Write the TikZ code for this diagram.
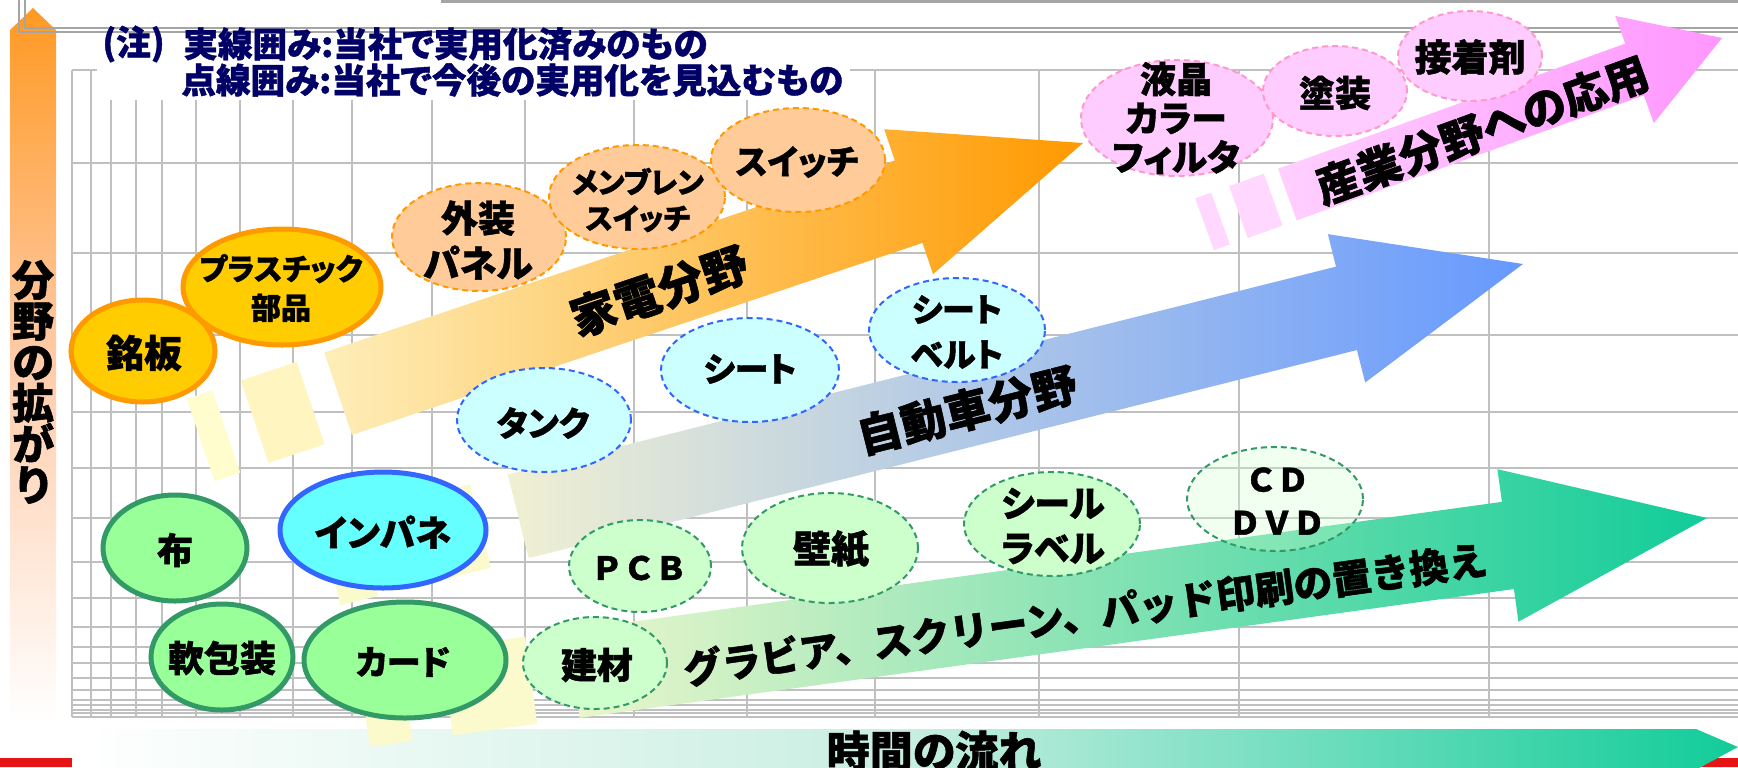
\documentclass[tikz,border=0pt]{standalone}
\usepackage{fontspec}
\setmainfont{Noto Sans CJK JP}[RawFeature=+palt, BoldFeatures={FakeBold=1.2}]
\newfontfamily\fwfont{Noto Sans CJK JP}[BoldFeatures={FakeBold=1.2}]
\usetikzlibrary{shapes.geometric}

\definecolor{gridgray}{RGB}{192,192,192}
\definecolor{framegray}{RGB}{165,165,165}
\definecolor{notenavy}{RGB}{0,0,102}
\definecolor{axisred}{RGB}{230,20,20}
\definecolor{goldfill}{RGB}{255,204,0}
\definecolor{orangeline}{RGB}{255,153,0}
\definecolor{peachfill}{RGB}{255,204,153}
\definecolor{cyanfill}{RGB}{102,255,255}
\definecolor{blueline}{RGB}{51,102,255}
\definecolor{palecyan}{RGB}{204,255,255}
\definecolor{greenfill}{RGB}{153,255,153}
\definecolor{greenline}{RGB}{51,153,102}
\definecolor{palegreen}{RGB}{204,255,204}
\definecolor{pinkfill}{RGB}{255,204,255}
\definecolor{pinkline}{RGB}{255,153,204}
\definecolor{kadentail}{RGB}{254,238,185}
\definecolor{kadenhead}{RGB}{255,153,0}
\definecolor{kadenstripA}{RGB}{255,252,206}
\definecolor{kadenstripB}{RGB}{255,245,192}
\definecolor{autotail}{RGB}{240,240,210}
\definecolor{autohead}{RGB}{102,153,255}
\definecolor{palestrip}{RGB}{250,250,205}
\definecolor{printtail}{RGB}{236,246,204}
\definecolor{printhead}{RGB}{17,204,153}
\definecolor{industail}{RGB}{255,208,255}
\definecolor{indushead}{RGB}{255,150,255}
\definecolor{industrip}{RGB}{255,215,255}
\definecolor{vaxistop}{RGB}{255,153,34}
\definecolor{vaxismid}{RGB}{255,204,170}
\definecolor{haxismid}{RGB}{200,238,225}

\newcommand\fsz[2]{\fontsize{#1}{#2}\selectfont}

\tikzset{
  gridline/.style={gridgray, line width=1pt},
  bubble/.style={ellipse, inner sep=0pt},
  ellsize/.style 2 args={minimum width=#1pt, minimum height=#2pt},
  goldsolid/.style={bubble, fill=goldfill, draw=orangeline, line width=2.5pt},
  peachdash/.style={bubble, fill=peachfill, draw=orangeline, line width=1pt, dash pattern=on 3pt off 2pt},
  cyansolid/.style={bubble, fill=cyanfill, draw=blueline, line width=2.5pt},
  cyandash/.style={bubble, fill=palecyan, draw=blueline, line width=1pt, dash pattern=on 3pt off 2pt},
  greensolid/.style={bubble, fill=greenfill, draw=greenline, line width=2.5pt},
  greendash/.style={bubble, fill=palegreen, draw=greenline, line width=1pt, dash pattern=on 3pt off 2pt},
  pinkdash/.style={bubble, fill=pinkfill, draw=pinkline, line width=1pt, dash pattern=on 3pt off 2pt},
  lbl/.style 2 args={align=center, inner sep=0pt, font=\bfseries\fsz{#1}{#2}},
  notetext/.style={anchor=west, inner sep=0pt, text=notenavy, font=\bfseries\fsz{17.3}{20}}
}

\begin{document}
\begin{tikzpicture}[x=0.5pt, y=-0.5pt]
\useasboundingbox (0,0) rectangle (1738,767);
\clip (0,0) rectangle (1738,767);

% background grid
\foreach \gx in {72,91,111,136,162,196,240,293,352,432,525,634,747,875,1039,1239,1489}
  \draw[gridline] (\gx,70) -- (\gx,717);
\foreach \gy in {70,163,253,335,412,468,518,562,598,627,647,663,678,690,700,705,710,713,717}
  \draw[gridline] (72,\gy) -- (1738,\gy);
\fill[white] (97,60) rectangle (850,100);

% axes
\shade[top color=vaxistop, bottom color=white, middle color=vaxismid]
  (10,723) -- (10,30) -- (33,8) -- (56,30) -- (56,723) -- cycle;
\fill[axisred] (0,758) rectangle (72,767);
\fill[axisred] (1690,758) rectangle (1738,767);
\shade[left color=white, right color=printhead, middle color=haxismid]
  (78,729) -- (1696,729) -- (1738,747) -- (1675,781) -- (78,781) -- cycle;

% frame
\draw[framegray, line width=1pt] (19,0) -- (19,32) -- (1738,32);
\draw[framegray, line width=1pt] (25,0) -- (25,28) -- (1738,28);
\draw[framegray, line width=1.5pt] (441,1.5) -- (1738,1.5);

% 家電
\begin{scope}[shift={(1083,143)}, rotate=18.6]
  \fill[kadenstripA] (-931,-43.5) -- (-904,-43.5) -- (-904,43.5) -- (-931,43.5) -- cycle;
  \fill[kadenstripB] (-874,-43.5) -- (-815,-43.5) -- (-815,43.5) -- (-874,43.5) -- cycle;
  \shade[left color=kadentail, right color=kadenhead]
    (-786,-43.5) -- (-184,-43.5) -- (-184,-76.5) -- (0,0) -- (-184,76.5) -- (-184,43.5) -- (-786,43.5) -- cycle;
\end{scope}

% 自動車
\begin{scope}[shift={(1523,264)}, rotate=14.1]
  \fill[palestrip] (-1230,-43) -- (-1191,-43) -- (-1191,43) -- (-1230,43) -- cycle;
  \fill[palestrip] (-1152,-43) -- (-1075,-43) -- (-1075,43) -- (-1152,43) -- cycle;
  \shade[left color=autotail, right color=autohead]
    (-1036,-43) -- (-182,-43) -- (-182,-76.5) -- (0,0) -- (-182,76.5) -- (-182,43) -- (-1036,43) -- cycle;
\end{scope}

% 印刷
\begin{scope}[shift={(1707,518)}, rotate=7.85]
  \fill[palestrip] (-1356,-44) -- (-1313,-44) -- (-1313,44) -- (-1356,44) -- cycle;
  \fill[palestrip] (-1272,-44) -- (-1187,-44) -- (-1187,44) -- (-1272,44) -- cycle;
  \shade[left color=printtail, right color=printhead]
    (-1144,-44) -- (-201,-44) -- (-201,-77) -- (0,0) -- (-201,77) -- (-201,44) -- (-1144,44) -- cycle;
\end{scope}

% 産業
\begin{scope}[shift={(1722,38)}, rotate=19.8]
  \fill[industrip] (-550,-27.5) -- (-533,-27.5) -- (-533,27.5) -- (-550,27.5) -- cycle;
  \fill[industrip] (-514,-27.5) -- (-477,-27.5) -- (-477,27.5) -- (-514,27.5) -- cycle;
  \shade[left color=industail, right color=indushead]
    (-462,-27.5) -- (-93,-27.5) -- (-93,-57) -- (0,0) -- (-93,57) -- (-93,27.5) -- (-462,27.5) -- cycle;
\end{scope}

% bubbles
\node[goldsolid, ellsize={72}{51}] (meiban) at (143,351) {};
\node[goldsolid, ellsize={99}{58}] (plastic) at (282,287) {};
\node[peachdash, ellsize={87}{54}] (gaiso) at (479,237) {};
\node[peachdash, ellsize={88}{52}] (membrane) at (637,197) {};
\node[peachdash, ellsize={87}{52}] (switch) at (798,160) {};
\node[cyandash, ellsize={87}{52}] (tank) at (544,420) {};
\node[cyandash, ellsize={89}{52}] (seat) at (750,370) {};
\node[cyandash, ellsize={88}{52}] (belt) at (957,330) {};
\node[pinkdash, ellsize={96}{58}] (ekisho) at (1177,118) {};
\node[pinkdash, ellsize={72}{45}] (toso) at (1335,91) {};
\node[pinkdash, ellsize={72}{45}] (setchaku) at (1470,56) {};
\node[greensolid, ellsize={72}{53}] (nuno) at (175,548) {};
\node[cyansolid, ellsize={103}{58}] (inpane) at (383,530) {};
\node[greensolid, ellsize={71}{53}] (nanpo) at (222,657) {};
\node[greensolid, ellsize={101}{58}] (card) at (405,660) {};
\node[greendash, ellsize={71}{46}] (pcb) at (640,566) {};
\node[greendash, ellsize={88}{55}] (kabegami) at (830,548) {};
\node[greendash, ellsize={72}{46}] (kenzai) at (595,663) {};
\node[greendash, ellsize={88}{52}] (seal) at (1052,524) {};
\node[greendash, fill opacity=0.3, ellsize={88}{52}] (cddvd) at (1275,499) {};

% bubble texts
\node[lbl={19}{22}] (meibantxt) at (144,353) {銘板};
\node[lbl={15}{19.5}] (plastictxt) at (281,288) {プラスチック\\部品};
\node[lbl={18.5}{22.5}] (gaisotxt) at (478,240) {外装\\パネル};
\node[lbl={14.5}{18}] (membranetxt) at (638,200) {メンブレン\\スイッチ};
\node[lbl={17}{20}] (switchtxt) at (797,162) {スイッチ};
\node[lbl={17}{20}] (tanktxt) at (543,423) {タンク};
\node[lbl={17}{20}] (seattxt) at (750,369) {シート};
\node[lbl={16.5}{22.5}] (belttxt) at (957,332) {シート\\ベルト};
\node[lbl={18}{19.5}] (ekishotxt) at (1176,118) {液晶\\カラー\\フィルタ};
\node[lbl={18}{20}] (tosotxt) at (1335,93) {塗装};
\node[lbl={18.5}{20}] (setchakutxt) at (1470,57) {接着剤};
\node[lbl={18}{20}] (nunotxt) at (175,550) {布};
\node[lbl={18}{20}] (inpanetxt) at (383,532) {インパネ};
\node[lbl={18}{20}] (nanpotxt) at (222,658) {軟包装};
\node[lbl={17}{20}] (cardtxt) at (403,662) {カード};
\node[lbl={16}{20}, font=\fwfont\bfseries\fsz{16}{20}] (pcbtxt) at (639,568) {ＰＣＢ};
\node[lbl={19}{20}] (kabegamitxt) at (831,549) {壁紙};
\node[lbl={18}{20}] (kenzaitxt) at (597,665) {建材};
\node[lbl={18}{22.5}] (sealtxt) at (1053,526) {シール\\ラベル};
\node[lbl={16}{21.5}, font=\fwfont\bfseries\fsz{16}{21.5}] (cddvdtxt) at (1277,501) {ＣＤ\\ＤＶＤ};

% arrow texts
\node[lbl={23}{24}, rotate=18.6] (kadentxt) at (659,291) {家電分野};
\node[lbl={22.5}{24}, rotate=14.1] (autotxt) at (967,410) {自動車分野};
\node[lbl={19.5}{22}, font=\fwfont\bfseries\fsz{19.5}{22}, rotate=7.85] (printtxt) at (1085,614) {グラビア、スクリーン、パッド印刷の置き換え};
\node[lbl={22}{24}, rotate=19.8] (industxt) at (1482,130) {産業分野への応用};

% axis texts and note
\node[lbl={21}{20.5}] (vaxistxt) at (33,382) {分\\野\\の\\拡\\が\\り};
\node[lbl={21.5}{24}] (haxistxt) at (934,751) {時間の流れ};
\node[notetext] (note0) at (102,44) {(注)};
\node[notetext] (note1) at (183,44) {実線囲み:当社で実用化済みのもの};
\node[notetext] (note2) at (181,80) {点線囲み:当社で今後の実用化を見込むもの};
\end{tikzpicture}
\end{document}
